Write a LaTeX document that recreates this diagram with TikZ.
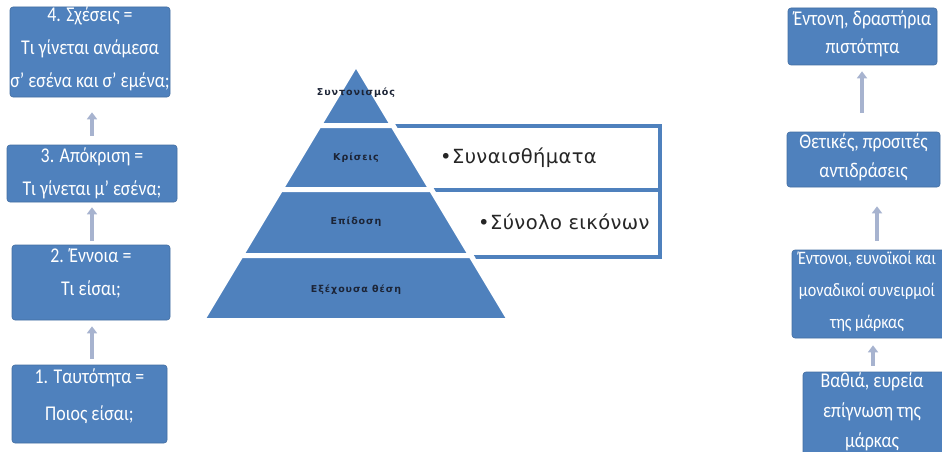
\documentclass[tikz,border=0pt]{standalone}
\usepackage{fontspec}
\setmainfont{Carlito}
\newfontfamily\boxfont[FakeStretch=0.85]{Carlito}
\newfontfamily\pyrfont[LetterSpace=10]{DejaVu Sans}
\newfontfamily\listfont[LetterSpace=2]{DejaVu Sans}
\usetikzlibrary{arrows.meta}
\definecolor{boxblue}{HTML}{4F81BD}
\definecolor{arrowgray}{HTML}{A7B3CF}
\definecolor{pyrtext}{HTML}{1C2436}
\definecolor{listtext}{HTML}{262626}
\begin{document}
\begin{tikzpicture}[x=1pt,y=-1pt,
  bluebox/.style={draw=boxblue!85!black, line width=0.6pt, fill=boxblue, rounded corners=3pt, inner sep=0pt},
  boxtext/.style={text=white, align=center, inner sep=0pt, font=\boxfont\fontsize{21}{33}\selectfont},
  uparrow/.style={draw=arrowgray, line width=4.5pt, -{Triangle[width=10pt,length=7pt]}},
  band/.style={fill=boxblue, draw=white, line width=5pt, line join=miter},
  pyrlabel/.style={text=pyrtext, inner sep=0pt, font=\pyrfont\bfseries\fontsize{9.5}{11}\selectfont},
  listlabel/.style={text=listtext, inner sep=0pt, anchor=west, font=\listfont\fontsize{19.5}{22}\selectfont},
  frameline/.style={draw=boxblue, line width=4pt}
]
\useasboundingbox (0,0) rectangle (942,452);
\clip (0,0) rectangle (942,452);

% ---- left column ----
\node[bluebox, minimum width=160pt, minimum height=90pt] (L4) at (90,52) {};
\node[bluebox, minimum width=170pt, minimum height=57pt] (L3) at (92,173.5) {};
\node[bluebox, minimum width=158pt, minimum height=75pt] (L2) at (91,282.5) {};
\node[bluebox, minimum width=155pt, minimum height=78pt] (L1) at (89.5,404) {};

\node[boxtext] (L4t) at (90,48.5) {4. Σχέσεις =\\Τι γίνεται ανάμεσα\\σ’ εσένα και σ’ εμένα;};
\node[boxtext] (L3t) at (92,173.5) {3. Απόκριση =\\Τι γίνεται μ’ εσένα;};
\node[boxtext] (L2t) at (91,273) {2. Έννοια =\\Τι είσαι;};
\node[boxtext, font=\boxfont\fontsize{21}{37}\selectfont] (L1t) at (89.5,396.5) {1. Ταυτότητα =\\Ποιος είσαι;};

\draw[uparrow, shorten <=6pt, shorten >=6pt] (L1.north -| 92,0) -- (L2.south -| 92,0);
\draw[uparrow, shorten <=4pt, shorten >=5pt] (L2.north -| 92,0) -- (L3.south -| 92,0);
\draw[uparrow, shorten <=9pt, shorten >=15pt] (L3.north) -- (L4.south -| L3.north);

% ---- right frame behind pyramid ----
\fill[white] (330,125.5) rectangle (659.5,257);
\draw[frameline] (330,125.5) -- (659.5,125.5) -- (659.5,257) -- (330,257);
\draw[frameline] (330,189.5) -- (659.5,189.5);

% ---- pyramid ----
\path[band] (356,64) -- (392.9,125.5) -- (319.1,125.5) -- cycle;
\path[band] (319.1,125.5) -- (392.9,125.5) -- (431.3,189.5) -- (280.7,189.5) -- cycle;
\path[band] (280.7,189.5) -- (431.3,189.5) -- (470.9,255.5) -- (241.1,255.5) -- cycle;
\path[band] (241.1,255.5) -- (470.9,255.5) -- (509.9,320.5) -- (202.1,320.5) -- cycle;

\node[pyrlabel] (P4) at (356,93) {Συντονισμός};
\node[pyrlabel] (P3) at (356,158) {Κρίσεις};
\node[pyrlabel] (P2) at (356,222) {Επίδοση};
\node[pyrlabel] (P1) at (356,290) {Εξέχουσα θέση};

\node[listlabel] (F1) at (440,158) {•Συναισθήματα};
\node[listlabel] (F2) at (478,222) {•Σύνολο εικόνων};

% ---- right column ----
\node[bluebox, minimum width=149pt, minimum height=57pt] (R4) at (862.5,36.5) {};
\node[bluebox, minimum width=153pt, minimum height=55pt] (R3) at (863.5,159.5) {};
\node[bluebox, minimum width=166pt, minimum height=88pt] (R2) at (875,294) {};
\node[bluebox, minimum width=144pt, minimum height=90pt] (R1) at (875,417) {};

\node[boxtext, font=\boxfont\fontsize{21}{28}\selectfont] (R4t) at (862.5,34) {Έντονη, δραστήρια\\πιστότητα};
\node[boxtext, font=\boxfont\fontsize{21}{29}\selectfont] (R3t) at (863.5,157.5) {Θετικές, προσιτές\\αντιδράσεις};
\node[boxtext, font=\boxfont\fontsize{19}{32}\selectfont] (R2t) at (867,291) {Έντονοι, ευνοϊκοί και\\μοναδικοί συνειρμοί\\της μάρκας};
\node[boxtext, font=\boxfont\fontsize{21}{30}\selectfont] (R1t) at (872,412) {Βαθιά, ευρεία\\επίγνωση της\\μάρκας};

\draw[uparrow, shorten <=6pt, shorten >=7pt] (R1.north -| 873,0) -- (R2.south -| 873,0);
\draw[uparrow, shorten <=9pt, shorten >=19pt] (R2.north -| 877,0) -- (R3.south -| 877,0);
\draw[uparrow, shorten <=19pt, shorten >=6pt] (R3.north -| 862,0) -- (R4.south -| 862,0);
\end{tikzpicture}
\end{document}
